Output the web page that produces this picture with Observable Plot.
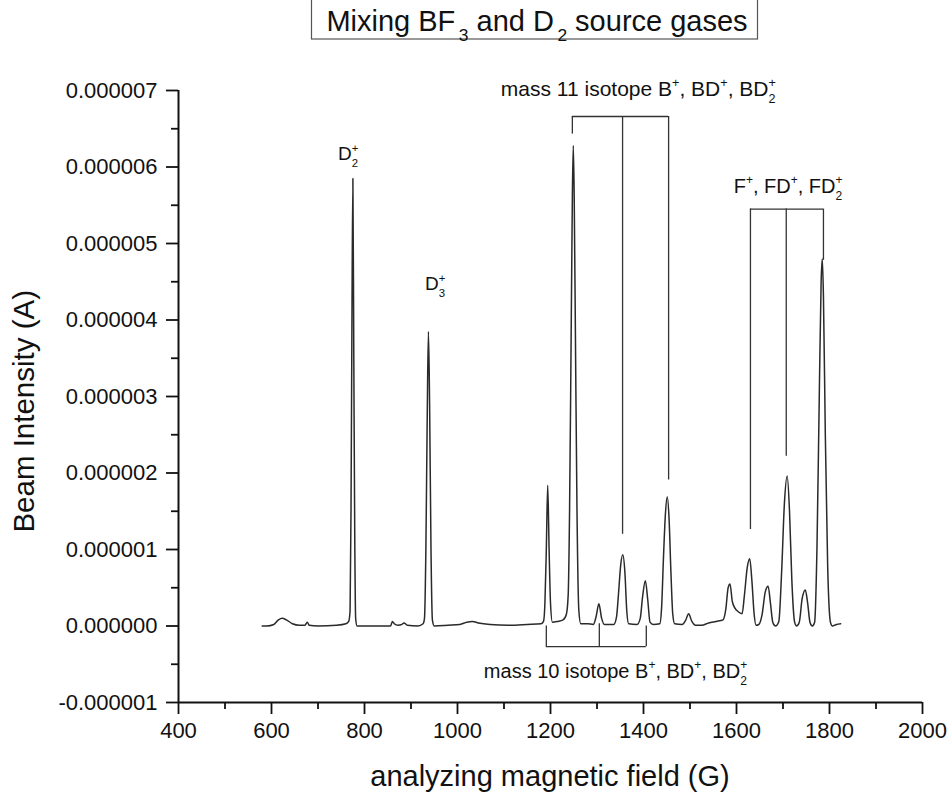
<!DOCTYPE html>
<html>
<head>
<meta charset="utf-8">
<script src="https://cdn.jsdelivr.net/npm/d3@7"></script>
<script src="https://cdn.jsdelivr.net/npm/@observablehq/plot@0.6"></script>
<style>
  body { margin: 0; background: #fff; }
  #chart svg { font-family: "Liberation Sans", Arial, sans-serif; overflow: visible; }
</style>
</head>
<body>
<div id="chart"></div>
<script>
// Mass spectrum of the ion beam, BF3 + D2 source gases
const fieldG = [
  580, 590, 605, 615, 623, 632, 645, 660, 672, 677, 681, 700, 740, 760, 766,
  769, 771, 773, 775, 777, 779, 781, 784,
  830, 856, 860, 864, 872, 880, 885, 892, 915, 926,
  929, 932, 935, 937.5, 940, 943, 946, 950,
  980, 1005, 1020, 1032, 1045, 1070, 1110, 1150, 1180, 1185,
  1188, 1191, 1194, 1197, 1200, 1204, 1215, 1227, 1234,
  1238, 1241, 1244, 1247, 1249, 1251, 1254, 1257, 1261, 1265,
  1280, 1292, 1298, 1304, 1310, 1316, 1336, 1342,
  1346, 1351, 1355.5, 1360, 1364, 1368,
  1386, 1393, 1398, 1404, 1409, 1414, 1421, 1435,
  1439, 1443, 1447, 1451, 1455, 1459, 1463, 1467,
  1483, 1491, 1497, 1504, 1512, 1525, 1540, 1556, 1571,
  1577, 1582, 1586, 1591, 1597, 1603, 1612,
  1617, 1623, 1628.5, 1633, 1638, 1642,
  1648, 1655, 1662, 1668, 1673, 1678, 1684,
  1691, 1697, 1703, 1709, 1714, 1719, 1725, 1729,
  1735, 1741, 1748, 1753, 1758, 1763,
  1768, 1773, 1778, 1782, 1784.5, 1787, 1791, 1796, 1802, 1806, 1815, 1824
];
// beam current in microamperes at each field value
const beamMicroA = [
  0.00, 0.00, 0.02, 0.08, 0.10, 0.08, 0.03, 0.01, 0.01, 0.05, 0.01, 0.00, 0.01, 0.03, 0.06,
  0.20, 1.50, 4.00, 5.85, 3.50, 1.20, 0.10, 0.00,
  0.00, 0.00, 0.06, 0.03, 0.01, 0.02, 0.04, 0.01, 0.00, 0.03,
  0.10, 1.00, 2.80, 3.85, 2.90, 1.00, 0.08, 0.00,
  0.01, 0.02, 0.05, 0.06, 0.04, 0.02, 0.01, 0.02, 0.03, 0.06,
  0.30, 1.00, 1.84, 1.00, 0.30, 0.05, 0.06, 0.08, 0.15,
  0.40, 1.50, 3.50, 5.60, 6.28, 5.60, 3.50, 1.50, 0.20, 0.03,
  0.03, 0.02, 0.12, 0.29, 0.10, 0.02, 0.02, 0.12,
  0.40, 0.80, 0.93, 0.70, 0.20, 0.03,
  0.02, 0.10, 0.38, 0.59, 0.35, 0.05, 0.02, 0.03,
  0.25, 0.90, 1.45, 1.69, 1.40, 0.70, 0.15, 0.03,
  0.02, 0.08, 0.16, 0.06, 0.01, 0.01, 0.04, 0.06, 0.08,
  0.22, 0.50, 0.55, 0.32, 0.23, 0.19, 0.16,
  0.40, 0.76, 0.88, 0.60, 0.15, 0.01,
  0.02, 0.15, 0.45, 0.52, 0.30, 0.05, 0.00,
  0.06, 0.70, 1.60, 1.96, 1.50, 0.60, 0.05, 0.00,
  0.05, 0.35, 0.47, 0.30, 0.05, 0.00,
  0.05, 1.00, 3.00, 4.50, 4.80, 4.30, 2.50, 0.80, 0.05, 0.00, 0.02, 0.03
];

// axis ticks
const xMajorTicks = [400, 600, 800, 1000, 1200, 1400, 1600, 1800, 2000];
const xMinorTicks = [500, 700, 900, 1100, 1300, 1500, 1700, 1900];
const yMajorTicks = [-1e-6, 0, 1e-6, 2e-6, 3e-6, 4e-6, 5e-6, 6e-6, 7e-6];
const yMinorTicks = [-0.5e-6, 0.5e-6, 1.5e-6, 2.5e-6, 3.5e-6, 4.5e-6, 5.5e-6, 6.5e-6];

// peak-group brackets (field in G, levels in µA)
const mass11Legs = [1247, 1355, 1454];
const mass11LegEnds = [6.43, 1.20, 1.91];
const mass11Level = 6.66;
const fluorineLegs = [1630, 1707, 1787];
const fluorineLegEnds = [1.26, 2.22, 4.78];
const fluorineLevel = 5.45;
const mass10Legs = [1191, 1305, 1406];
const mass10LegTops = [0.0, 0.03, 0.0];
const mass10Level = -0.27;

// label anchors [field G, µA]
const d2Anchor = [766, 6.08];
const d3Anchor = [953, 4.38];
const mass11Anchor = [1390, 6.92];
const fluorineAnchor = [1712, 5.66];
const mass10Anchor = [1341, -0.69];

const spectrum = fieldG.map((g, i) => ({g, a: beamMicroA[i] * 1e-6}));

function bracketLegs(xs, from, to) {
  return xs.map((x, i) => ({x, y1: from[i] * 1e-6, y2: (Array.isArray(to) ? to[i] : to) * 1e-6}));
}

const legs = [
  ...bracketLegs(mass11Legs, mass11LegEnds, mass11Level),
  ...bracketLegs(fluorineLegs, fluorineLegEnds, fluorineLevel),
  ...bracketLegs(mass10Legs, mass10LegTops, mass10Level)
];
const bars = [
  {x1: mass11Legs[0], x2: mass11Legs[2], y: mass11Level * 1e-6},
  {x1: fluorineLegs[0], x2: fluorineLegs[2], y: fluorineLevel * 1e-6},
  {x1: mass10Legs[0], x2: mass10Legs[2], y: mass10Level * 1e-6}
];

const chart = Plot.plot({
  width: 951,
  height: 795,
  marginLeft: 178,
  marginRight: 29,
  marginTop: 90,
  marginBottom: 93,
  style: {fontFamily: '"Liberation Sans", Arial, sans-serif', fontSize: "22px", color: "#111", background: "#fff"},
  x: {domain: [400, 2000]},
  y: {domain: [-1e-6, 7e-6]},
  marks: [
    Plot.ruleX(legs, {x: "x", y1: "y1", y2: "y2", stroke: "#333", strokeWidth: 1.3}),
    Plot.ruleY(bars, {x1: "x1", x2: "x2", y: "y", stroke: "#333", strokeWidth: 1.3}),
    Plot.line(spectrum, {x: "g", y: "a", stroke: "#2a2a2a", strokeWidth: 1.5, curve: "monotone-x"}),
    Plot.axisX(xMajorTicks, {tickSize: 12, tickPadding: 8, strokeWidth: 1.8, label: null, fontSize: 22, tickFormat: d => String(d)}),
    Plot.axisX(xMinorTicks, {tickSize: 7, strokeWidth: 1.8, label: null, fill: "none"}),
    Plot.axisY(yMajorTicks, {tickSize: 12, tickPadding: 9, strokeWidth: 1.8, label: null, fontSize: 22, tickFormat: d => d.toFixed(6)}),
    Plot.axisY(yMinorTicks, {tickSize: 7, strokeWidth: 1.8, label: null, fill: "none"}),
    Plot.ruleX([400], {stroke: "#111", strokeWidth: 2}),
    Plot.ruleY([-1e-6], {stroke: "#111", strokeWidth: 2})
  ]
});

document.getElementById("chart").appendChild(chart);

const svg = d3.select(chart);
const sx = chart.scale("x");
const sy = chart.scale("y");

// text with stacked super/subscripts: parts are [string, kind]
function richText(g, x, y, size, parts, anchor = "middle") {
  const t = g.append("text")
    .attr("x", x).attr("y", y)
    .attr("text-anchor", anchor)
    .attr("font-size", size)
    .attr("fill", "#111");
  const small = size * 0.6;
  let shift = 0; // baseline correction carried to the next run
  for (const [s, kind] of parts) {
    if (kind === "n") {
      t.append("tspan").attr("dy", shift).text(s);
      shift = 0;
    } else if (kind === "sup") {
      t.append("tspan").attr("font-size", small).attr("dy", shift - size * 0.45).text(s);
      shift = size * 0.45;
    } else if (kind === "sub") {
      t.append("tspan").attr("font-size", small).attr("dx", size * 0.12).attr("dy", shift + size * 0.35).text(s);
      shift = -size * 0.35;
    } else if (kind === "supsub") {
      const [a, b] = s;
      t.append("tspan").attr("font-size", small).attr("dy", shift - size * 0.45).text(a);
      t.append("tspan").attr("font-size", small).attr("dx", -small * 0.584).attr("dy", size * 0.8).text(b);
      shift = -size * 0.35;
    }
  }
  return t;
}

const ann = svg.append("g");
const at = p => [sx.apply(p[0]), sy.apply(p[1] * 1e-6)];

richText(ann, ...at(d2Anchor), 19, [["D", "n"], [["+", "2"], "supsub"]]);
richText(ann, ...at(d3Anchor), 19, [["D", "n"], [["+", "3"], "supsub"]]);
richText(ann, ...at(mass11Anchor), 21, [
  ["mass 11 isotope B", "n"], ["+", "sup"], [", BD", "n"], ["+", "sup"], [", BD", "n"], [["+", "2"], "supsub"]
]);
richText(ann, ...at(fluorineAnchor), 20, [
  ["F", "n"], ["+", "sup"], [", FD", "n"], ["+", "sup"], [", FD", "n"], [["+", "2"], "supsub"]
]);
richText(ann, ...at(mass10Anchor), 20, [
  ["mass 10 isotope B", "n"], ["+", "sup"], [", BD", "n"], ["+", "sup"], [", BD", "n"], [["+", "2"], "supsub"]
]);

// axis titles
svg.append("text")
  .attr("transform", `translate(${sx.apply(1200)},786)`)
  .attr("text-anchor", "middle").attr("font-size", 29).attr("fill", "#111")
  .text("analyzing magnetic field (G)");
svg.append("text")
  .attr("transform", `translate(34,${sy.apply(2.8e-6)}) rotate(-90)`)
  .attr("text-anchor", "middle").attr("font-size", 29.5).attr("fill", "#111")
  .text("Beam Intensity (A)");

// boxed title
const title = svg.append("g");
title.append("rect")
  .attr("x", 311.5).attr("y", -2).attr("width", 446).attr("height", 41)
  .attr("fill", "#fff").attr("stroke", "#555").attr("stroke-width", 1.2);
richText(title, 537, 31, 29, [
  ["Mixing BF", "n"], ["3", "sub"], [" and D", "n"], ["2", "sub"], [" source gases", "n"]
]);
</script>
</body>
</html>
